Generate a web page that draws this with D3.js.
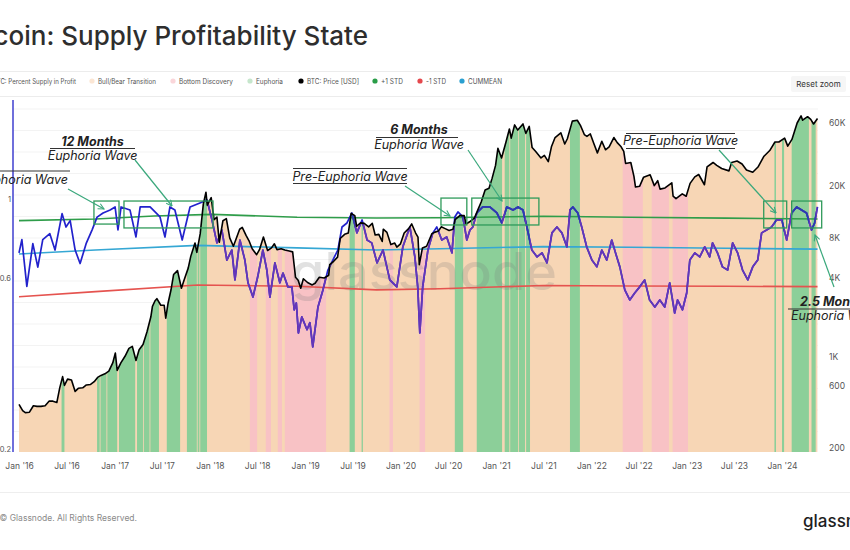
<!DOCTYPE html>
<html><head><meta charset="utf-8">
<script src="https://cdn.jsdelivr.net/npm/d3@7"></script>
<style>html,body{margin:0;padding:0;background:#fff;} svg{display:block;font-family:Inter,"Noto Sans",sans-serif;}</style>
</head><body><svg id="c" width="850" height="550"></svg>
<script>
const titleText = "Bitcoin: Supply Profitability State";
const xTickDates = ["2016-01-01","2016-07-01","2017-01-01","2017-07-01","2018-01-01","2018-07-01","2019-01-01","2019-07-01","2020-01-01","2020-07-01","2021-01-01","2021-07-01","2022-01-01","2022-07-01","2023-01-01","2023-07-01","2024-01-01"];
const rightTickValues = [200,600,1000,4000,8000,20000,60000];
const leftTickValues = [0.2,0.6,1];
const legendLabels = ["BTC: Percent Supply in Profit","Bull/Bear Transition","Bottom Discovery","Euphoria","BTC: Price [USD]","+1 STD","-1 STD","CUMMEAN"];
const legendColors = ["#2323c8","#fbe6d4","#fad6da","#c6e6cc","#000000","#2a9d48","#e5484d","#2a9fd0"];

const priceSeries = [["2016-01-01",430],["2016-01-15",385],["2016-01-25",372],["2016-02-10",375],["2016-02-25",420],["2016-03-10",415],["2016-03-25",415],["2016-04-10",420],["2016-04-25",455],["2016-05-10",455],["2016-05-25",445],["2016-06-05",575],["2016-06-16",700],["2016-06-23",600],["2016-07-05",670],["2016-07-20",660],["2016-08-03",540],["2016-08-15",570],["2016-09-01",575],["2016-09-15",605],["2016-10-01",610],["2016-10-15",640],["2016-10-28",690],["2016-11-10",715],["2016-11-25",735],["2016-12-10",770],["2016-12-25",890],["2017-01-04",1060],["2017-01-11",780],["2017-01-25",890],["2017-02-10",1000],["2017-02-25",1150],["2017-03-10",1190],["2017-03-24",930],["2017-04-05",1120],["2017-04-20",1230],["2017-05-05",1530],["2017-05-20",2000],["2017-05-26",2400],["2017-06-05",2650],["2017-06-12",2750],["2017-06-27",2450],["2017-07-10",2450],["2017-07-16",1950],["2017-07-25",2550],["2017-08-05",3200],["2017-08-15",4200],["2017-08-30",4500],["2017-09-14",3300],["2017-09-25",3850],["2017-10-10",4700],["2017-10-20",5800],["2017-11-05",7300],["2017-11-12",6200],["2017-11-25",8600],["2017-12-07",14500],["2017-12-17",17800],["2017-12-22",14200],["2018-01-06",16200],["2018-01-17",11000],["2018-01-28",11500],["2018-02-06",7400],["2018-02-20",10800],["2018-03-05",11200],["2018-03-18",8000],["2018-04-01",6900],["2018-04-12",7900],["2018-04-25",9300],["2018-05-05",9600],["2018-05-20",8300],["2018-06-01",7500],["2018-06-12",6600],["2018-06-29",5950],["2018-07-10",6500],["2018-07-25",8100],["2018-08-10",6400],["2018-08-25",6700],["2018-09-05",7200],["2018-09-15",6500],["2018-10-01",6600],["2018-10-15",6450],["2018-11-01",6350],["2018-11-14",6250],["2018-11-20",4900],["2018-11-25",4000],["2018-12-05",3800],["2018-12-15",3300],["2018-12-25",3900],["2019-01-10",3650],["2019-01-28",3500],["2019-02-08",3600],["2019-02-24",4000],["2019-03-15",3950],["2019-04-01",4150],["2019-04-05",5000],["2019-04-20",5300],["2019-05-05",5700],["2019-05-15",7900],["2019-06-01",8500],["2019-06-15",8700],["2019-06-26",12300],["2019-07-10",11800],["2019-07-17",9800],["2019-08-01",10400],["2019-08-15",10300],["2019-09-01",9700],["2019-09-15",10300],["2019-09-26",8400],["2019-10-10",8500],["2019-10-23",7500],["2019-10-27",9300],["2019-11-10",8800],["2019-11-25",7100],["2019-12-10",7300],["2019-12-18",6800],["2020-01-01",7200],["2020-01-15",8700],["2020-02-01",9400],["2020-02-13",10200],["2020-02-28",8700],["2020-03-08",8100],["2020-03-13",5000],["2020-03-25",6700],["2020-04-10",6900],["2020-04-30",8600],["2020-05-10",8800],["2020-05-25",9000],["2020-06-05",9700],["2020-06-20",9400],["2020-07-05",9100],["2020-07-20",9300],["2020-07-28",11000],["2020-08-15",11800],["2020-09-01",11800],["2020-09-08",10200],["2020-09-25",10700],["2020-10-10",11300],["2020-10-22",12900],["2020-11-05",15000],["2020-11-20",18500],["2020-12-05",19100],["2020-12-17",22800],["2020-12-30",28500],["2021-01-08",38500],["2021-01-22",32500],["2021-02-08",43000],["2021-02-21",54000],["2021-02-28",46000],["2021-03-13",58000],["2021-03-25",53000],["2021-04-14",59000],["2021-04-25",50000],["2021-05-08",56500],["2021-05-19",39000],["2021-06-01",36500],["2021-06-22",32500],["2021-07-05",34000],["2021-07-20",30500],["2021-08-01",39500],["2021-08-15",46500],["2021-09-06",50500],["2021-09-21",41500],["2021-10-01",45500],["2021-10-20",62000],["2021-11-08",63000],["2021-11-20",57500],["2021-12-05",49000],["2021-12-15",47500],["2021-12-28",49500],["2022-01-10",42000],["2022-01-24",35500],["2022-02-10",43500],["2022-02-24",37500],["2022-03-10",39500],["2022-03-28",46500],["2022-04-10",42500],["2022-04-25",39500],["2022-05-05",36500],["2022-05-12",29500],["2022-06-01",30000],["2022-06-13",23500],["2022-06-19",19500],["2022-07-05",19800],["2022-07-20",23200],["2022-08-14",24200],["2022-08-30",20000],["2022-09-12",21800],["2022-09-21",18800],["2022-10-10",19200],["2022-11-05",21000],["2022-11-10",16600],["2022-11-21",15900],["2022-12-15",17300],["2022-12-30",16600],["2023-01-14",20800],["2023-02-01",23300],["2023-02-16",24300],["2023-03-10",20300],["2023-03-20",27800],["2023-04-12",30000],["2023-04-26",28500],["2023-05-15",27000],["2023-06-12",25900],["2023-06-22",30000],["2023-07-13",30800],["2023-08-01",29200],["2023-08-18",26300],["2023-09-11",25300],["2023-10-01",27700],["2023-10-24",33500],["2023-11-15",37000],["2023-12-05",43000],["2023-12-20",43000],["2024-01-11",46000],["2024-01-23",40000],["2024-02-08",45000],["2024-02-28",60000],["2024-03-14",68000],["2024-03-20",63000],["2024-04-08",67000],["2024-04-20",64000],["2024-05-01",59000],["2024-05-16",65000]];

const percentSeries = [["2016-01-01",0.707],["2016-01-12",0.77],["2016-01-31",0.57],["2016-02-23",0.75],["2016-03-13",0.645],["2016-04-01",0.77],["2016-04-28",0.80],["2016-05-18",0.72],["2016-06-14",0.91],["2016-06-29",0.835],["2016-07-15",0.87],["2016-08-03",0.72],["2016-08-22",0.66],["2016-09-14",0.75],["2016-10-07",0.82],["2016-10-26",0.89],["2016-11-18",0.914],["2016-12-15",0.932],["2017-01-03",0.95],["2017-01-14",0.82],["2017-01-26",0.95],["2017-03-01",0.932],["2017-03-24",0.783],["2017-04-09",0.95],["2017-05-17",0.95],["2017-06-24",0.891],["2017-07-13",0.783],["2017-08-01",0.95],["2017-08-20",0.932],["2017-09-17",0.768],["2017-10-17",0.95],["2017-11-24",0.975],["2017-12-21",0.994],["2018-01-09",0.874],["2018-01-28",0.754],["2018-02-16",0.819],["2018-03-07",0.675],["2018-03-26",0.72],["2018-04-07",0.594],["2018-04-26",0.768],["2018-05-15",0.675],["2018-05-27",0.583],["2018-06-15",0.532],["2018-07-03",0.605],["2018-07-23",0.72],["2018-08-07",0.633],["2018-08-19",0.532],["2018-09-07",0.663],["2018-09-26",0.583],["2018-10-08",0.621],["2018-10-27",0.568],["2018-11-11",0.568],["2018-11-20",0.49],["2018-11-28",0.512],["2018-12-06",0.422],["2018-12-19",0.468],["2019-01-08",0.431],["2019-01-19",0.451],["2019-01-30",0.386],["2019-02-19",0.499],["2019-03-10",0.557],["2019-03-29",0.633],["2019-04-17",0.675],["2019-05-06",0.72],["2019-05-22",0.835],["2019-06-10",0.857],["2019-06-29",0.914],["2019-07-18",0.804],["2019-08-07",0.874],["2019-08-26",0.768],["2019-09-13",0.754],["2019-10-03",0.663],["2019-10-26",0.72],["2019-11-21",0.594],["2019-12-18",0.568],["2020-01-10",0.735],["2020-02-06",0.835],["2020-02-25",0.689],["2020-03-07",0.568],["2020-03-15",0.422],["2020-03-26",0.568],["2020-04-15",0.72],["2020-05-04",0.804],["2020-05-19",0.835],["2020-06-07",0.768],["2020-06-26",0.783],["2020-07-16",0.707],["2020-07-27",0.891],["2020-08-08",0.92],["2020-08-27",0.891],["2020-09-11",0.768],["2020-09-23",0.819],["2020-10-04",0.835],["2020-10-19",0.914],["2020-11-11",0.95],["2020-12-08",0.95],["2021-01-04",0.914],["2021-01-23",0.857],["2021-02-11",0.95],["2021-03-07",0.932],["2021-03-26",0.95],["2021-04-14",0.932],["2021-04-29",0.835],["2021-05-18",0.72],["2021-06-07",0.689],["2021-06-26",0.707],["2021-07-15",0.663],["2021-08-03",0.804],["2021-08-22",0.835],["2021-09-10",0.804],["2021-09-29",0.735],["2021-10-11",0.932],["2021-10-22",0.95],["2021-11-10",0.914],["2021-11-25",0.835],["2021-12-14",0.735],["2022-01-03",0.675],["2022-01-22",0.646],["2022-02-10",0.72],["2022-03-01",0.675],["2022-03-20",0.768],["2022-04-08",0.689],["2022-04-20",0.646],["2022-05-09",0.557],["2022-05-28",0.522],["2022-06-16",0.546],["2022-07-05",0.568],["2022-07-24",0.594],["2022-08-12",0.522],["2022-09-01",0.499],["2022-09-20",0.522],["2022-10-09",0.499],["2022-10-28",0.583],["2022-11-16",0.48],["2022-11-27",0.522],["2022-12-16",0.49],["2023-01-01",0.546],["2023-01-13",0.675],["2023-02-01",0.707],["2023-02-20",0.689],["2023-03-11",0.735],["2023-03-30",0.689],["2023-04-10",0.754],["2023-04-29",0.707],["2023-05-18",0.646],["2023-06-07",0.633],["2023-06-26",0.754],["2023-07-15",0.707],["2023-08-03",0.633],["2023-08-23",0.594],["2023-09-11",0.646],["2023-09-30",0.675],["2023-10-15",0.804],["2023-11-03",0.819],["2023-11-22",0.835],["2023-12-11",0.874],["2023-12-31",0.874],["2024-01-19",0.768],["2024-02-07",0.914],["2024-02-26",0.95],["2024-03-16",0.932],["2024-04-04",0.914],["2024-04-23",0.819],["2024-05-05",0.857],["2024-05-16",0.95]];

const plusStdSeries = [["2016-01-01",0.870],["2016-10-20",0.879],["2017-06-01",0.896],["2018-01-10",0.906],["2018-12-01",0.889],["2019-10-01",0.885],["2020-06-01",0.886],["2021-07-01",0.895],["2022-06-01",0.889],["2023-06-01",0.884],["2024-05-16",0.879]];
const cummeanSeries = [["2016-01-01",0.702],["2016-10-20",0.720],["2017-11-15",0.742],["2018-12-01",0.730],["2019-10-01",0.720],["2020-06-01",0.726],["2021-07-01",0.736],["2022-06-01",0.733],["2023-06-01",0.728],["2024-05-16",0.724]];
const minusStdSeries = [["2016-01-01",0.533],["2016-10-20",0.551],["2017-11-15",0.575],["2018-12-01",0.570],["2019-10-01",0.557],["2020-06-01",0.561],["2021-07-01",0.573],["2022-06-01",0.571],["2023-06-01",0.570],["2024-05-16",0.569]];

const bandRuns = [["2016-01-01","2024-05-16","transition"],
["2016-06-12","2016-06-22","euphoria"],["2016-10-26","2017-01-10","euphoria"],["2017-01-18","2017-03-20","euphoria"],["2017-03-28","2017-06-19","euphoria"],["2017-07-20","2017-09-08","euphoria"],["2017-10-05","2017-12-20","euphoria"],
["2016-11-05","2016-11-06","transition"],["2016-12-01","2016-12-02","transition"],["2017-04-20","2017-04-21","transition"],["2017-05-15","2017-05-16","transition"],["2017-11-12","2017-11-13","transition"],["2017-11-22","2017-11-23","transition"],
["2018-06-03","2018-06-30","bottom"],["2018-08-03","2018-08-22","bottom"],["2018-09-18","2018-10-03","bottom"],["2018-10-15","2019-03-21","bottom"],
["2019-06-20","2019-07-09","euphoria"],["2019-08-05","2019-08-09","euphoria"],["2019-11-20","2019-12-02","bottom"],["2020-03-14","2020-04-03","bottom"],
["2020-07-27","2020-08-27","euphoria"],["2020-10-19","2021-01-23","euphoria"],["2021-02-03","2021-04-21","euphoria"],["2021-04-26","2021-05-10","euphoria"],
["2021-02-21","2021-02-22","transition"],["2021-03-26","2021-03-27","transition"],
["2021-10-11","2021-11-17","euphoria"],
["2022-05-01","2022-07-16","bottom"],["2022-08-20","2022-10-24","bottom"],["2022-11-08","2023-01-05","bottom"],
["2023-12-03","2023-12-08","euphoria"],["2024-01-01","2024-01-08","euphoria"],["2024-02-07","2024-04-12","euphoria"],["2024-04-23","2024-05-08","euphoria"]];

const annotationBoxes = [["2016-10-14","2017-01-18",0.987,0.851],["2017-02-06","2018-01-13",0.987,0.83],["2020-06-04","2020-09-11",1.006,0.846],["2020-09-30","2021-06-14",1.006,0.846],["2023-10-23","2024-01-19",0.987,0.83],["2024-02-07","2024-06-01",0.987,0.83]];

// ---------------- drawing ----------------
const svg = d3.select("#c");
const parse = d3.timeParse("%Y-%m-%d");
const plotTop = 100, plotBottom = 452, plotLeft = 13, plotRight = 818;
const x = d3.scaleTime().domain([parse("2016-01-01"), parse("2024-01-01")]).range([19, 782]);
const yP = d3.scaleLog().domain([200, 60000]).range([448, 123]);
const yS = d3.scaleLog().domain([0.2, 1]).range([449, 199]);
const toObj = s => s.map(([d, v]) => ({date: parse(d), v}));
const priceData = toObj(priceSeries), pctData = toObj(percentSeries);

// header
svg.append("text").attr("x", 368).attr("y", 45).attr("text-anchor", "end")
  .attr("font-size", 26).attr("font-weight", 500).attr("fill", "#2e2e2e").text(titleText);
svg.append("line").attr("x1", 0).attr("x2", 850).attr("y1", 71.5).attr("y2", 71.5).attr("stroke", "#ececec");
svg.append("line").attr("x1", 0).attr("x2", 850).attr("y1", 96.5).attr("y2", 96.5).attr("stroke", "#ececec");

const legendDotX = [-13, 92, 173, 250, 301, 375, 420, 462];
const legendW = [83, 58, 54, 27, 52, 22, 20, 34];
const lg = svg.append("g");
legendLabels.forEach((lab, i) => {
  lg.append("circle").attr("cx", legendDotX[i]).attr("cy", 81).attr("r", 2.6).attr("fill", legendColors[i]);
  lg.append("text").attr("x", legendDotX[i] + 6).attr("y", 83.5).attr("font-size", 7.2).attr("fill", "#555")
    .attr("textLength", legendW[i]).attr("lengthAdjust", "spacingAndGlyphs").text(lab);
});
svg.append("rect").attr("x", 791).attr("y", 76).attr("width", 55).attr("height", 16).attr("rx", 2).attr("fill", "#f6f6f6");
svg.append("text").attr("x", 818.5).attr("y", 87).attr("text-anchor", "middle").attr("font-size", 8).attr("fill", "#333").text("Reset zoom");

// grid
const gridScale = d3.scaleLinear().domain([0, 16]).range([453, 109]);
svg.append("g").selectAll("line").data(d3.range(1, 17)).join("line")
  .attr("x1", plotLeft).attr("x2", plotRight).attr("y1", d => gridScale(d)).attr("y2", d => gridScale(d))
  .attr("stroke", "#f3f3f3").attr("stroke-width", 1);

const defs = svg.append("defs");
const area = d3.area().x(d => x(d.date)).y0(plotBottom).y1(d => yP(d.v));
defs.append("clipPath").attr("id", "priceClip").append("path").attr("d", area(priceData));
const dayMs = 864e5;
const runX = r => x(parse(r[0]));
const runW = r => Math.max(0.8, x(new Date(+parse(r[1]) + dayMs)) - x(parse(r[0])));
defs.append("clipPath").attr("id", "euphClip").selectAll("rect").data(bandRuns.filter(r => r[2] === "euphoria")).join("rect")
  .attr("x", runX).attr("width", runW).attr("y", plotTop).attr("height", plotBottom - plotTop);

const bandColor = {transition: "#f7d6b5", bottom: "#f8c2c5", euphoria: "#8ccf99"};
svg.append("g").attr("clip-path", "url(#priceClip)").selectAll("rect").data(bandRuns).join("rect")
  .attr("x", runX).attr("width", runW).attr("y", plotTop).attr("height", plotBottom - plotTop)
  .attr("fill", r => bandColor[r[2]]);

// watermark
svg.append("text").attr("x", 291).attr("y", 290).attr("font-size", 52).attr("font-weight", 500)
  .attr("textLength", 266).attr("lengthAdjust", "spacingAndGlyphs")
  .attr("fill", "#7a7a7a").attr("opacity", 0.22).text("glassnode");

// reference lines
const lineS = d3.line().x(d => x(d.date)).y(d => yS(d.v));
[[minusStdSeries, "#e5534f"], [cummeanSeries, "#35a7d4"], [plusStdSeries, "#2f9d4a"]].forEach(([s, c]) => {
  svg.append("path").attr("d", lineS(toObj(s))).attr("fill", "none").attr("stroke", c).attr("stroke-width", 1.6);
});

// percent supply in profit
const pctPath = lineS(pctData);
svg.append("path").attr("d", pctPath).attr("fill", "none").attr("stroke", "#2222cc").attr("stroke-width", 1.7).attr("stroke-linejoin", "round");
svg.append("g").attr("clip-path", "url(#priceClip)").append("path").attr("d", pctPath)
  .attr("fill", "none").attr("stroke", "#6536b8").attr("stroke-width", 1.7).attr("stroke-linejoin", "round");
svg.append("g").attr("clip-path", "url(#priceClip)").append("g").attr("clip-path", "url(#euphClip)")
  .append("path").attr("d", pctPath).attr("fill", "none").attr("stroke", "#2a3cb0").attr("stroke-width", 1.7).attr("stroke-linejoin", "round");

// price
const lineP = d3.line().x(d => x(d.date)).y(d => yP(d.v));
svg.append("path").attr("d", lineP(priceData)).attr("fill", "none").attr("stroke", "#000").attr("stroke-width", 1.6).attr("stroke-linejoin", "round");

// axes
svg.append("line").attr("x1", plotLeft).attr("x2", plotLeft).attr("y1", plotTop).attr("y2", plotBottom).attr("stroke", "#3f3fcf").attr("stroke-width", 1.5);
const xAxis = d3.axisBottom(x).tickValues(xTickDates.map(parse)).tickSize(0).tickPadding(11)
  .tickFormat(d => d3.timeFormat("%b '%y")(d));
const gx = svg.append("g").attr("transform", `translate(0,${plotBottom})`).call(xAxis);
gx.select(".domain").remove();
gx.selectAll("text").attr("font-size", 8.5).attr("fill", "#555").attr("font-family", "Inter, sans-serif");

const rAxis = d3.axisRight(yP).tickValues(rightTickValues).tickSize(0).tickPadding(11)
  .tickFormat(d => d >= 1000 ? (d / 1000) + "K" : d);
const gr = svg.append("g").attr("transform", `translate(${plotRight},0)`).call(rAxis);
gr.select(".domain").remove();
gr.selectAll("text").attr("font-size", 8.5).attr("fill", "#555").attr("font-family", "Inter, sans-serif");

const lAxis = d3.axisLeft(yS).tickValues(leftTickValues).tickSize(0).tickPadding(2).tickFormat(d => d);
const gl = svg.append("g").attr("transform", `translate(${plotLeft},0)`).call(lAxis);
gl.select(".domain").remove();
gl.selectAll("text").attr("font-size", 7.5).attr("fill", "#555").attr("font-family", "Inter, sans-serif");

// annotations: boxes
svg.append("g").selectAll("rect").data(annotationBoxes).join("rect")
  .attr("x", b => x(parse(b[0]))).attr("width", b => x(parse(b[1])) - x(parse(b[0])))
  .attr("y", b => yS(b[2])).attr("height", b => yS(b[3]) - yS(b[2]))
  .attr("fill", "none").attr("stroke", "#2f9a5a").attr("stroke-width", 1.3);

defs.append("marker").attr("id", "arr").attr("viewBox", "0 0 10 10").attr("refX", 9).attr("refY", 5)
  .attr("markerWidth", 6).attr("markerHeight", 6).attr("orient", "auto")
  .append("path").attr("d", "M1,1 L9,5 L1,9").attr("fill", "none").attr("stroke", "#3aa87c").attr("stroke-width", 1.5);
const connectors = [[68, 189, 104, 209], [135, 160, 172, 206], [405, 186, 450, 216], [468, 150, 502, 201], [719, 150, 776, 213], [834, 287, 815, 235]];
svg.append("g").selectAll("line").data(connectors).join("line")
  .attr("x1", c => c[0]).attr("y1", c => c[1]).attr("x2", c => c[2]).attr("y2", c => c[3])
  .attr("stroke", "#3aa87c").attr("stroke-width", 1.2).attr("marker-end", "url(#arr)");

const ann = svg.append("g").attr("fill", "#222").attr("font-size", 12.5);
const rule = (x1, x2, y) => ann.append("line").attr("x1", x1).attr("x2", x2).attr("y1", y).attr("y2", y).attr("stroke", "#333").attr("stroke-width", 1);
// left cut-off label
rule(0, 70, 171);
ann.append("text").attr("x", 68).attr("y", 184).attr("text-anchor", "end").attr("font-style", "italic").text("Euphoria Wave");
// 12 months
ann.append("text").attr("x", 92.5).attr("y", 145.5).attr("text-anchor", "middle").attr("font-style", "italic").attr("font-weight", 700).text("12 Months");
rule(50, 135, 148.5);
ann.append("text").attr("x", 92.5).attr("y", 160).attr("text-anchor", "middle").attr("font-style", "italic").text("Euphoria Wave");
// pre-euphoria 2020
rule(293, 407, 168.5);
ann.append("text").attr("x", 350).attr("y", 181).attr("text-anchor", "middle").attr("font-style", "italic").text("Pre-Euphoria Wave");
rule(293, 407, 183.5);
// 6 months
ann.append("text").attr("x", 419).attr("y", 134).attr("text-anchor", "middle").attr("font-style", "italic").attr("font-weight", 700).text("6 Months");
rule(376, 458, 137.5);
ann.append("text").attr("x", 419).attr("y", 149).attr("text-anchor", "middle").attr("font-style", "italic").text("Euphoria Wave");
// pre-euphoria 2023
rule(626, 735, 133.5);
ann.append("text").attr("x", 680.5).attr("y", 145).attr("text-anchor", "middle").attr("font-style", "italic").text("Pre-Euphoria Wave");
rule(626, 735, 148.5);
// 2.5 months
ann.append("text").attr("x", 800).attr("y", 306).attr("font-style", "italic").attr("font-weight", 700).text("2.5 Months");
rule(788, 852, 309);
ann.append("text").attr("x", 791).attr("y", 320).attr("font-style", "italic").text("Euphoria Wave");

// footer
svg.append("line").attr("x1", 0).attr("x2", 850).attr("y1", 492.5).attr("y2", 492.5).attr("stroke", "#eeeeee");
svg.append("text").attr("x", 137).attr("y", 521).attr("text-anchor", "end").attr("font-size", 8.5).attr("fill", "#8a8a8a").text("© Glassnode. All Rights Reserved.");
svg.append("text").attr("x", 803).attr("y", 527).attr("font-size", 17).attr("font-weight", 500).attr("fill", "#1e1e1e").text("glassnode");
</script></body></html>
